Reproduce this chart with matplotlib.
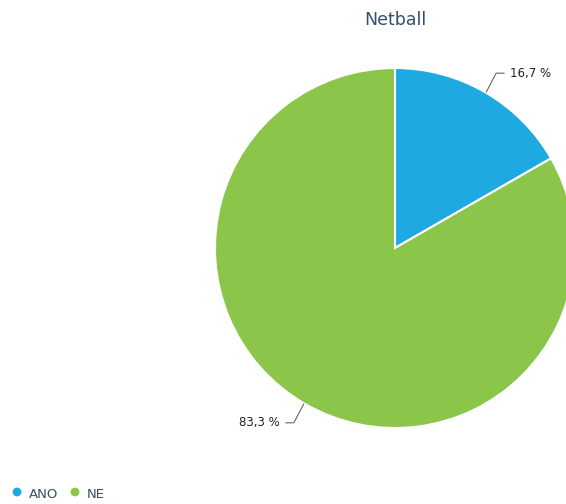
import matplotlib.pyplot as plt
import numpy as np

# pie data
categories = ["ANO", "NE"]
values = [16.7, 83.3]
value_labels = ["16,7 %", "83,3 %"]
colors = ["#1fa9e1", "#8bc54a"]
title = "Netball"

W, H = 566, 504
fig = plt.figure(figsize=(W / 100, H / 100), dpi=100)
ax = fig.add_axes([0, 0, 1, 1])
ax.set_xlim(0, W)
ax.set_ylim(0, H)
ax.axis("off")

cx, cy, r = 395, H - 248, 180

wedges, _ = ax.pie(values, colors=colors, startangle=90, counterclock=False,
                   center=(cx, cy), radius=r, frame=True,
                   wedgeprops=dict(edgecolor="white", linewidth=1.5))
ax.set_xlim(0, W)
ax.set_ylim(0, H)
ax.set_aspect("equal")
ax.axis("off")

# leader lines and value labels
start = 0.0
for i, v in enumerate(values):
    mid = start + v / 2.0
    start += v
    ang = np.deg2rad(90 - mid * 3.6)
    x0, y0 = cx + r * np.cos(ang), cy + r * np.sin(ang)
    x1, y1 = cx + (r + 22) * np.cos(ang), cy + (r + 22) * np.sin(ang)
    side = 1 if np.cos(ang) >= 0 else -1
    x2 = x1 + side * 8
    ax.plot([x0 + side * 1, x1, x2], [y0, y1, y1], color="#666666", lw=0.8,
            solid_capstyle="round")
    ax.text(x2 + side * 6, y1, value_labels[i], ha="left" if side > 0 else "right",
            va="center", fontsize=8.5, color="#222222")

ax.text(cx, H - 20, title, ha="center", va="center", fontsize=12.5,
        color="#34506e")

# legend
lx = 17
for name, c in zip(categories, colors):
    ax.scatter([lx], [H - 492], s=40, color=c, edgecolors="none")
    t = ax.text(lx + 12, H - 494, name, ha="left", va="center", fontsize=9.5,
                color="#34506e")
    lx += 58

plt.savefig("out.png", dpi=100)
